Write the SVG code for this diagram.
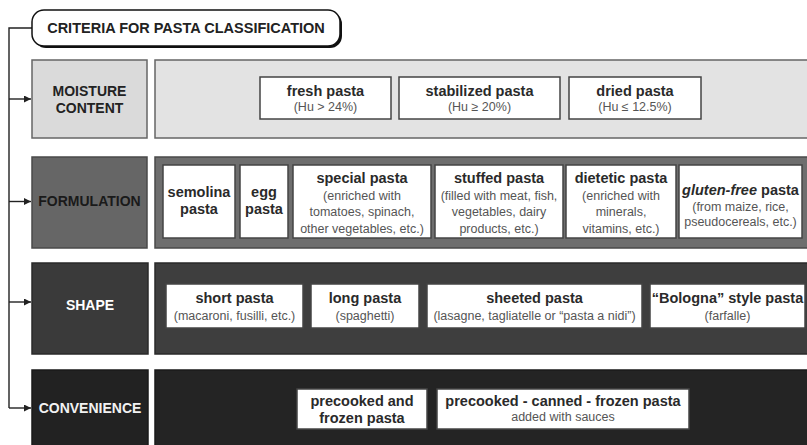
<svg xmlns="http://www.w3.org/2000/svg" width="807" height="445" viewBox="0 0 807 445">
  <defs>
    <marker id="arrow" viewBox="0 0 10 10" refX="10" refY="5" markerWidth="7" markerHeight="7" markerUnits="userSpaceOnUse" orient="auto">
      <path d="M0,0 L10,5 L0,10 Z" fill="#222"/>
    </marker>
  </defs>
  <style>
    text { font-family: "Liberation Sans", Arial, Helvetica, sans-serif; text-anchor: middle; }
    .title { font-size: 14.5px; font-weight: bold; fill: #222; }
    .lbl { font-size: 14px; font-weight: bold; }
    .hd { font-size: 14.5px; font-weight: bold; fill: #2a2a2a; }
    .sub { font-size: 12.5px; fill: #555; }
    .item { fill: #fff; stroke: #444; stroke-width: 1.5; }
    .conn { fill: none; stroke: #222; stroke-width: 1.4; }
  </style>
  <rect width="807" height="445" fill="#fff"/>

  <!-- connectors -->
  <g id="connectors">
    <path class="conn" d="M32,28 H9 V408"/>
    <path class="conn" d="M9,99 H31" marker-end="url(#arrow)"/>
    <path class="conn" d="M9,201.5 H31" marker-end="url(#arrow)"/>
    <path class="conn" d="M9,302 H31" marker-end="url(#arrow)"/>
    <path class="conn" d="M9,408 H31" marker-end="url(#arrow)"/>
  </g>

  <!-- title -->
  <g id="title">
    <rect x="34" y="12" width="308" height="36" rx="12" fill="#111"/>
    <rect x="32" y="10" width="308" height="36" rx="12" fill="#fff" stroke="#111" stroke-width="1.5"/>
    <text class="title" x="186" y="33">CRITERIA FOR PASTA CLASSIFICATION</text>
  </g>

  <!-- moisture content -->
  <g id="moisture">
    <rect x="32" y="60" width="115" height="78" fill="#dadada" stroke="#666" stroke-width="1.5"/>
    <text class="lbl" x="89.5" y="96" fill="#222">MOISTURE</text>
    <text class="lbl" x="89.5" y="113" fill="#222">CONTENT</text>
    <rect x="155" y="60" width="655" height="78" fill="#e3e3e3" stroke="#666" stroke-width="1.5"/>
  </g>
  <g id="fresh">
    <rect class="item" x="260" y="77" width="131" height="42"/>
    <text class="hd" x="325.5" y="96">fresh pasta</text>
    <text class="sub" x="325.5" y="111">(Hu &gt; 24%)</text>
  </g>
  <g id="stabilized">
    <rect class="item" x="399" y="77" width="161" height="42"/>
    <text class="hd" x="479.5" y="96">stabilized pasta</text>
    <text class="sub" x="479.5" y="111">(Hu ≥ 20%)</text>
  </g>
  <g id="dried">
    <rect class="item" x="569" y="77" width="132" height="42"/>
    <text class="hd" x="635" y="96">dried pasta</text>
    <text class="sub" x="635" y="111">(Hu ≤ 12.5%)</text>
  </g>

  <!-- formulation -->
  <g id="formulation">
    <rect x="32" y="157" width="115" height="91" fill="#666" stroke="#4a4a4a" stroke-width="1.5"/>
    <text class="lbl" x="89.5" y="206" fill="#1a1a1a">FORMULATION</text>
    <rect x="155" y="157" width="655" height="91" fill="#6e6e6e" stroke="#4a4a4a" stroke-width="1.5"/>
  </g>
  <g id="semolina">
    <rect class="item" x="163" y="165" width="72" height="73"/>
    <text class="hd" x="199" y="197">semolina</text>
    <text class="hd" x="199" y="214">pasta</text>
  </g>
  <g id="egg">
    <rect class="item" x="240" y="165" width="48" height="73"/>
    <text class="hd" x="264" y="197">egg</text>
    <text class="hd" x="264" y="214">pasta</text>
  </g>
  <g id="special">
    <rect class="item" x="293" y="165" width="138" height="73"/>
    <text class="hd" x="362" y="183">special pasta</text>
    <text class="sub" x="362" y="199.5">(enriched with</text>
    <text class="sub" x="362" y="216">tomatoes, spinach,</text>
    <text class="sub" x="362" y="232.5">other vegetables, etc.)</text>
  </g>
  <g id="stuffed">
    <rect class="item" x="435" y="165" width="128" height="73"/>
    <text class="hd" x="499" y="183">stuffed pasta</text>
    <text class="sub" x="499" y="199.5">(filled with meat, fish,</text>
    <text class="sub" x="499" y="216">vegetables, dairy</text>
    <text class="sub" x="499" y="232.5">products, etc.)</text>
  </g>
  <g id="dietetic">
    <rect class="item" x="566" y="165" width="110" height="73"/>
    <text class="hd" x="621" y="183">dietetic pasta</text>
    <text class="sub" x="621" y="199.5">(enriched with</text>
    <text class="sub" x="621" y="216">minerals,</text>
    <text class="sub" x="621" y="232.5">vitamins, etc.)</text>
  </g>
  <g id="glutenfree">
    <rect class="item" x="679" y="165" width="123" height="73"/>
    <text class="hd" x="740.5" y="195" font-size="14px"><tspan font-style="italic">gluten-free</tspan> pasta</text>
    <text class="sub" x="740.5" y="211">(from maize, rice,</text>
    <text class="sub" x="740.5" y="226">pseudocereals, etc.)</text>
  </g>

  <!-- shape -->
  <g id="shape">
    <rect x="32" y="263" width="116" height="91" fill="#3a3a3a" stroke="#2a2a2a" stroke-width="1.5"/>
    <text class="lbl" x="90" y="310" fill="#fff">SHAPE</text>
    <rect x="155" y="263" width="655" height="91" fill="#3e3e3e" stroke="#2a2a2a" stroke-width="1.5"/>
  </g>
  <g id="short">
    <rect class="item" x="166" y="284" width="137" height="44"/>
    <text class="hd" x="234.5" y="303">short pasta</text>
    <text class="sub" x="234.5" y="320">(macaroni, fusilli, etc.)</text>
  </g>
  <g id="long">
    <rect class="item" x="311" y="284" width="108" height="44"/>
    <text class="hd" x="365" y="303">long pasta</text>
    <text class="sub" x="365" y="320">(spaghetti)</text>
  </g>
  <g id="sheeted">
    <rect class="item" x="427" y="284" width="215" height="44"/>
    <text class="hd" x="534.5" y="303">sheeted pasta</text>
    <text class="sub" x="534.5" y="320">(lasagne, tagliatelle or “pasta a nidi”)</text>
  </g>
  <g id="bologna">
    <rect class="item" x="650" y="284" width="155" height="44"/>
    <text class="hd" x="727.5" y="303">“Bologna” style pasta</text>
    <text class="sub" x="727.5" y="320">(farfalle)</text>
  </g>

  <!-- convenience -->
  <g id="convenience">
    <rect x="32" y="370" width="116" height="80" fill="#222" stroke="#1a1a1a" stroke-width="1.5"/>
    <text class="lbl" x="90" y="413" fill="#f2f2f2">CONVENIENCE</text>
    <rect x="155" y="370" width="655" height="80" fill="#242424" stroke="#1a1a1a" stroke-width="1.5"/>
  </g>
  <g id="precooked-frozen">
    <rect class="item" x="297" y="389" width="130" height="40"/>
    <text class="hd" x="362" y="406">precooked and</text>
    <text class="hd" x="362" y="423">frozen pasta</text>
  </g>
  <g id="precooked-canned">
    <rect class="item" x="437" y="389" width="252" height="40"/>
    <text class="hd" x="563" y="406">precooked - canned - frozen pasta</text>
    <text class="sub" x="563" y="421">added with sauces</text>
  </g>
</svg>
